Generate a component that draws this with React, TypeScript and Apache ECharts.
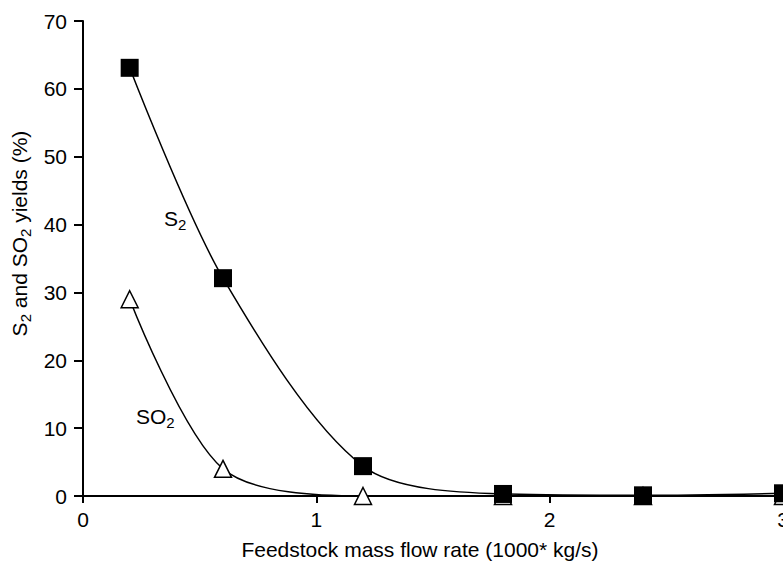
import React, { useEffect, useRef } from "react";
import * as echarts from "echarts";

const xTicks = [0, 1, 2, 3];
const s2Data: [number, number][] = [
  [0.2, 63.1],
  [0.6, 32.1],
  [1.2, 4.4],
  [1.8, 0.3],
  [2.4, 0.1],
  [3.0, 0.4],
];
const so2Data: [number, number][] = [
  [0.2, 29],
  [0.6, 4],
  [1.2, 0],
  [1.8, 0],
  [2.4, 0],
  [3.0, 0],
];
const xTitle = "Feedstock mass flow rate (1000* kg/s)";
const yTitle = "{a|S}{b|2}{a| and SO}{b|2}{a| yields (%)}";
const s2Label = "{a|S}{b|2}";
const so2Label = "{a|SO}{b|2}";

const FONT = "'Liberation Sans', Arial, Helvetica, sans-serif";
const FS = 21;
const richStyles = {
  a: { fontSize: FS, fontFamily: FONT, color: "#000" },
  b: { fontSize: 15, fontFamily: FONT, color: "#000", padding: [12, 0, 0, 0] },
};

export default function App() {
  const ref = useRef<HTMLDivElement>(null);
  useEffect(() => {
    if (!ref.current) return;
    const chart = echarts.init(ref.current, undefined, { renderer: "svg" });
    chart.setOption({
      animation: false,
      backgroundColor: "#fff",
      grid: { left: 83, right: 0, top: 21, bottom: 69, outerBoundsMode: "none" },
      xAxis: {
        type: "value",
        min: xTicks[0],
        max: xTicks[xTicks.length - 1],
        interval: 1,
        axisLine: { lineStyle: { color: "#000", width: 2 } },
        axisTick: { inside: false, length: 7, lineStyle: { color: "#000", width: 2 } },
        splitLine: { show: false },
        axisLabel: { fontSize: FS, fontFamily: FONT, color: "#000", margin: 13 },
        name: xTitle,
        nameLocation: "middle",
        nameGap: 43,
        nameTextStyle: { fontSize: FS, fontFamily: FONT, color: "#000", padding: [0, 26, 0, 0] },
      },
      yAxis: {
        type: "value",
        min: 0,
        max: 70,
        interval: 10,
        axisLine: { show: true, lineStyle: { color: "#000", width: 2 } },
        axisTick: { show: true, inside: false, length: 9, lineStyle: { color: "#000", width: 2 } },
        splitLine: { show: false },
        axisLabel: { fontSize: FS, fontFamily: FONT, color: "#000", margin: 16 },
        name: yTitle,
        nameLocation: "middle",
        nameRotate: 90,
        nameGap: 46,
        nameTextStyle: { padding: [0, 0, 0, 50], rich: richStyles },
      },
      graphic: [
        {
          type: "text",
          x: 164,
          y: 218,
          style: { text: s2Label, rich: richStyles, verticalAlign: "middle" },
        },
        {
          type: "text",
          x: 136,
          y: 416,
          style: { text: so2Label, rich: richStyles, verticalAlign: "middle" },
        },
      ],
      series: [
        {
          name: "SO2",
          type: "line",
          data: so2Data,
          smooth: 0.3,
          symbol: "triangle",
          symbolSize: 17,
          itemStyle: { color: "#fff", borderColor: "#000", borderWidth: 1.5 },
          lineStyle: { color: "#000", width: 1.5 },
          z: 2,
        },
        {
          name: "S2",
          type: "line",
          data: s2Data,
          smooth: 0.3,
          symbol: "rect",
          symbolSize: 18,
          itemStyle: { color: "#000", borderColor: "#000", borderWidth: 0 },
          lineStyle: { color: "#000", width: 1.5 },
          z: 3,
        },
      ],
    });
    return () => chart.dispose();
  }, []);
  return (
    <div
      ref={ref}
      style={{ position: "absolute", left: 0, top: 0, width: 783, height: 565 }}
    />
  );
}
